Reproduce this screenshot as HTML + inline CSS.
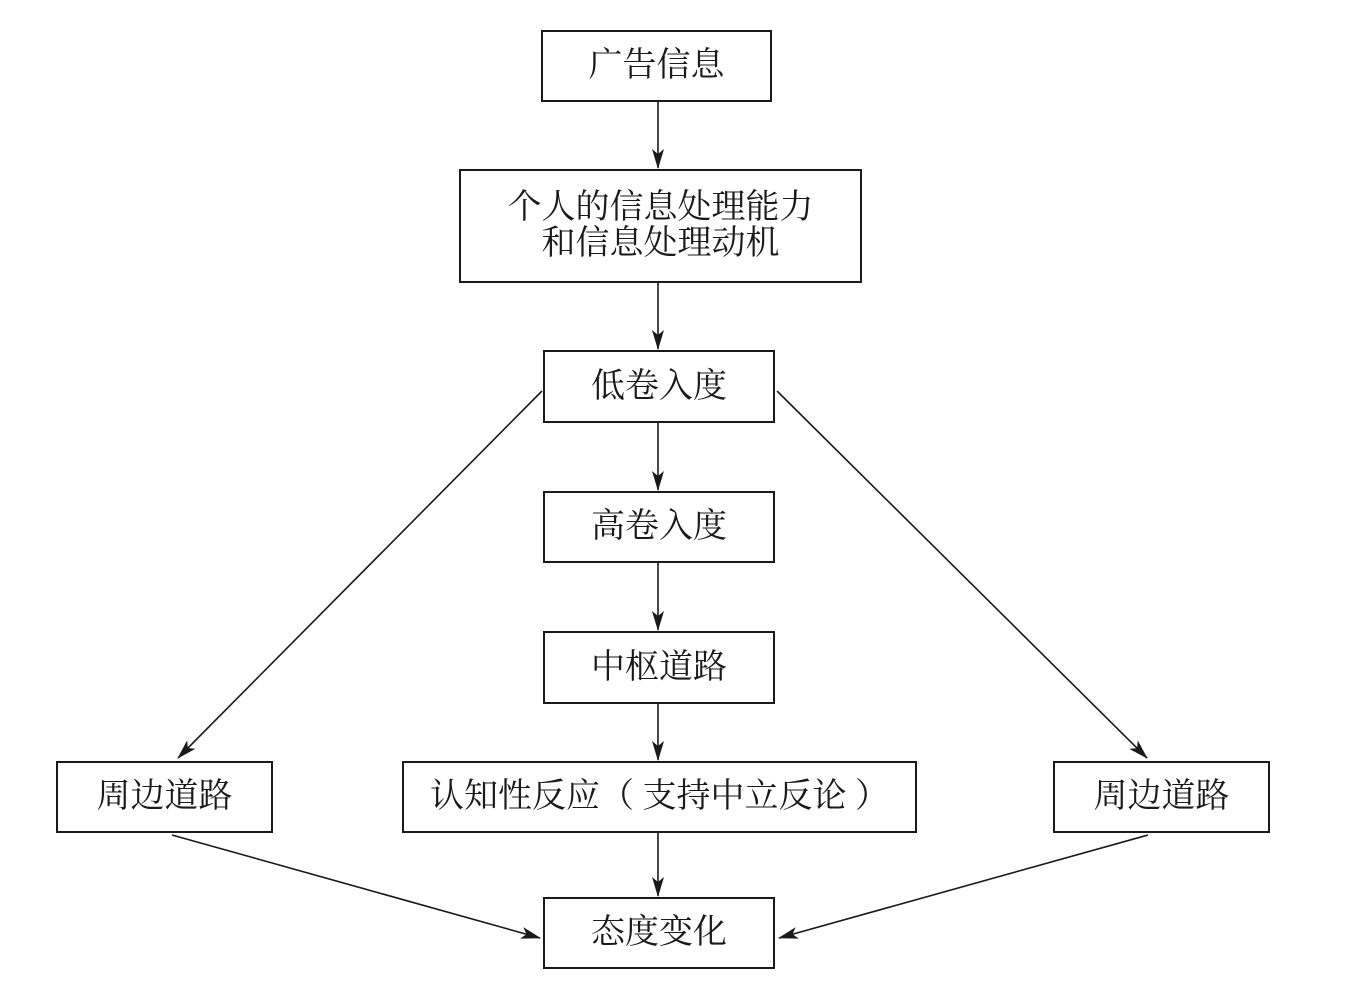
<!DOCTYPE html>
<html><head><meta charset="utf-8"><style>
body{margin:0;background:#fff;width:1355px;height:998px;overflow:hidden;position:relative}
.b{position:absolute;box-sizing:border-box;border:2.5px solid #1a1a1a;display:flex;align-items:center;justify-content:center;text-align:center;font-family:"Liberation Serif","Noto Serif CJK SC",serif;font-size:34px;line-height:36px;color:#1a1a1a}
svg{position:absolute;left:0;top:0}
</style></head><body>
<svg width="1355" height="998">
<defs><marker id="a" markerWidth="20" markerHeight="12" refX="19" refY="6" orient="auto" markerUnits="userSpaceOnUse"><path d="M0,0 L20,6 L0,12 L5,6 Z" fill="#1a1a1a"/></marker></defs>
<g stroke="#1a1a1a" stroke-width="1.6" fill="none" marker-end="url(#a)">
<line x1="658" y1="101" x2="658" y2="168"/>
<line x1="658" y1="282" x2="658" y2="349"/>
<line x1="658" y1="422" x2="658" y2="490"/>
<line x1="658" y1="562" x2="658" y2="630"/>
<line x1="658" y1="703" x2="658" y2="760"/>
<line x1="658" y1="832" x2="658" y2="896"/>
<line x1="542" y1="391" x2="178" y2="758"/>
<line x1="777" y1="391" x2="1147" y2="758"/>
<line x1="172" y1="835" x2="540" y2="938"/>
<line x1="1148" y1="835" x2="779" y2="938"/>
</g></svg>
<div class="b" style="left:541px;top:30px;width:231px;height:72px">广告信息</div>
<div class="b" style="left:459px;top:169px;width:403px;height:114px">个人的信息处理能力<br>和信息处理动机</div>
<div class="b" style="left:543px;top:350px;width:232px;height:73px">低卷入度</div>
<div class="b" style="left:543px;top:491px;width:232px;height:72px">高卷入度</div>
<div class="b" style="left:543px;top:631px;width:232px;height:73px">中枢道路</div>
<div class="b" style="left:56px;top:761px;width:217px;height:72px">周边道路</div>
<div class="b" style="left:402px;top:761px;width:515px;height:72px">认知性反应（ 支持中立反论 ）</div>
<div class="b" style="left:1053px;top:761px;width:217px;height:72px">周边道路</div>
<div class="b" style="left:543px;top:897px;width:232px;height:72px">态度变化</div>
</body></html>
